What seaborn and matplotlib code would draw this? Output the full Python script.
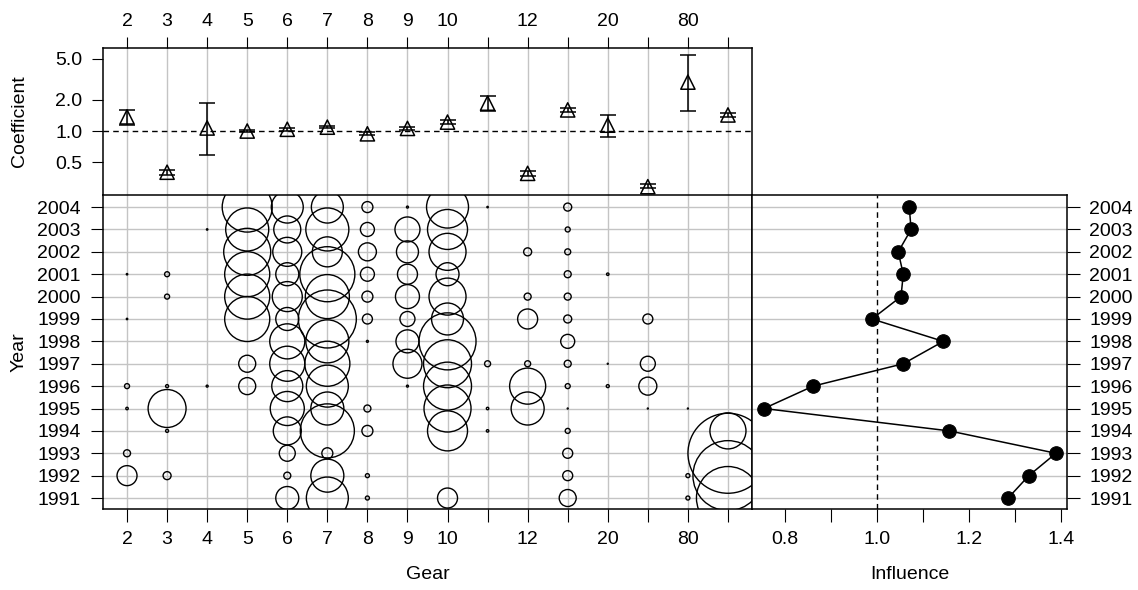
import numpy as np
import pandas as pd
import seaborn as sns
import matplotlib.pyplot as plt

# gear levels (R dropped the labels that would overlap)
gear_labels = ["2", "3", "4", "5", "6", "7", "8", "9", "10", "", "12", "", "20", "", "80", ""]
years = [2004, 2003, 2002, 2001, 2000, 1999, 1998, 1997, 1996, 1995, 1994, 1993, 1992, 1991]

# coefficients with confidence bounds
coef = [1.37, 0.40, 1.07, 1.00, 1.04, 1.09, 0.94, 1.06, 1.22, 1.86, 0.39, 1.60, 1.14, 0.29, 2.97, 1.43]
coef_lo = [1.14, 0.38, 0.59, 0.97, 1.01, 1.06, 0.91, 1.02, 1.17, 1.56, 0.37, 1.53, 0.87, 0.28, 1.56, 1.37]
coef_hi = [1.60, 0.42, 1.86, 1.03, 1.07, 1.12, 0.97, 1.10, 1.27, 2.18, 0.41, 1.67, 1.43, 0.31, 5.40, 1.50]

# influence by year
influence = [1.070, 1.074, 1.046, 1.057, 1.052, 0.989, 1.144, 1.057, 0.861, 0.754, 1.157, 1.389, 1.330, 1.285]

# relative share of records, rows = years (2004..1991), columns = gear levels
share = np.array([
    # 2   3     4     5     6     7     8     9     10    .     12    .     20    .     80    .
    [0.00, 0.00, 0.00, 25.0, 10.2, 10.2, 1.21, 0.04, 17.6, 0.02, 0.00, 0.64, 0.00, 0.00, 0.00, 0.00],  # 2004
    [0.00, 0.00, 0.02, 18.5, 7.29, 18.5, 1.96, 6.25, 16.0, 0.00, 0.00, 0.25, 0.00, 0.00, 0.00, 0.00],  # 2003
    [0.00, 0.00, 0.00, 22.1, 8.41, 9.00, 3.24, 4.84, 13.7, 0.00, 0.64, 0.36, 0.00, 0.00, 0.00, 0.00],  # 2002
    [0.02, 0.25, 0.00, 20.3, 5.29, 30.3, 1.96, 4.00, 5.29, 0.00, 0.00, 0.49, 0.06, 0.00, 0.00, 0.00],  # 2001
    [0.00, 0.25, 0.00, 20.3, 9.00, 19.4, 1.21, 5.76, 13.7, 0.00, 0.49, 0.49, 0.00, 0.00, 0.00, 0.00],  # 2000
    [0.02, 0.00, 0.00, 20.3, 5.29, 33.6, 1.00, 2.25, 10.2, 0.00, 4.00, 0.64, 0.00, 1.00, 0.00, 0.00],  # 1999
    [0.00, 0.00, 0.00, 0.00, 12.3, 18.5, 0.04, 5.29, 32.5, 0.00, 0.00, 1.96, 0.00, 0.00, 0.00, 0.00],  # 1998
    [0.00, 0.00, 0.00, 2.89, 12.3, 20.3, 0.00, 8.41, 23.0, 0.36, 0.36, 0.49, 0.01, 2.25, 0.00, 0.00],  # 1997
    [0.25, 0.09, 0.04, 2.89, 9.61, 17.6, 0.00, 0.04, 23.0, 0.00, 13.0, 0.25, 0.09, 3.24, 0.00, 0.00],  # 1996
    [0.06, 14.4, 0.00, 0.00, 11.6, 10.9, 0.49, 0.00, 22.1, 0.06, 10.9, 0.01, 0.00, 0.01, 0.01, 0.00],  # 1995
    [0.00, 0.09, 0.00, 0.00, 7.84, 29.2, 1.21, 0.00, 16.0, 0.06, 0.00, 0.25, 0.00, 0.00, 0.00, 13.0],  # 1994
    [0.49, 0.00, 0.00, 0.00, 2.56, 1.21, 0.00, 0.00, 0.00, 0.00, 0.00, 1.00, 0.00, 0.00, 0.00, 64.0],  # 1993
    [4.00, 0.64, 0.00, 0.00, 0.49, 10.9, 0.16, 0.00, 0.00, 0.00, 0.00, 1.00, 0.00, 0.00, 0.16, 49.0],  # 1992
    [0.00, 0.00, 0.00, 0.00, 5.29, 17.6, 0.16, 0.00, 4.00, 0.00, 0.00, 2.89, 0.00, 0.00, 0.16, 39.7],  # 1991
])

plt.rcParams['font.family'] = ['Liberation Sans', 'DejaVu Sans']
plt.rcParams['font.size'] = 14

pos = np.arange(1, len(gear_labels) + 1)
bub = pd.DataFrame(share, index=years, columns=pos).stack().reset_index()
bub.columns = ['year', 'gear', 'share']
bub = bub[bub['share'] > 0]

grid_col = '#c4c4c4'
fig = plt.figure(figsize=(11.38, 5.9), dpi=100)
ax_top = fig.add_axes([0.0905, 0.6695, 0.5703, 0.2491])
ax_bub = fig.add_axes([0.0905, 0.1373, 0.5703, 0.5322])
ax_inf = fig.add_axes([0.6608, 0.1373, 0.2768, 0.5322])

# coefficient panel
c = np.array(coef)
ax_top.errorbar(pos, c, yerr=[c - np.array(coef_lo), np.array(coef_hi) - c], fmt='none',
                ecolor='black', elinewidth=1.1, capsize=6, capthick=1.1, zorder=3)
ax_top.scatter(pos, c, marker='^', s=105, facecolors='none', edgecolors='black', linewidths=1.1, zorder=4)
ax_top.axhline(1.0, color='black', lw=1, ls=(0, (4, 3)), zorder=2)
ax_top.set_yscale('log')
ax_top.set_ylim(0.241, 6.34)
ax_top.set_xlim(0.4, 16.6)
ax_top.set_yticks([0.5, 1, 2, 5])
ax_top.set_yticklabels(['0.5', '1.0', '2.0', '5.0'])
ax_top.yaxis.set_minor_locator(plt.NullLocator())
ax_top.set_xticks(pos)
ax_top.set_xticklabels(gear_labels)
ax_top.xaxis.tick_top()
ax_top.grid(axis='x', color=grid_col, lw=1)
ax_top.set_axisbelow(True)
ax_top.set_ylabel('Coefficient')
ax_top.yaxis.set_label_coords(-0.116, 0.5)
ax_top.tick_params(axis='x', length=8, pad=5)
ax_top.tick_params(axis='y', length=8, pad=7)
ax_top.spines['bottom'].set_visible(False)

# bubble panel
smax = 64.0
sns.scatterplot(data=bub, x='gear', y='year', size='share', sizes=(0, smax * 0.5184 * 100),
                size_norm=(0, smax), facecolor='none', edgecolor='black', linewidth=1.0,
                legend=False, ax=ax_bub, zorder=3)
ax_bub.set_xlim(0.4, 16.6)
ax_bub.set_ylim(1990.51, 2004.54)
ax_bub.set_xticks(pos)
ax_bub.set_xticklabels(gear_labels)
ax_bub.set_yticks(years)
ax_bub.set_yticklabels([str(y) for y in years])
ax_bub.grid(color=grid_col, lw=1)
ax_bub.set_axisbelow(True)
ax_bub.set_xlabel('Gear', labelpad=13)
ax_bub.set_ylabel('Year')
ax_bub.yaxis.set_label_coords(-0.116, 0.5)
ax_bub.tick_params(length=9, pad=7)

# influence panel
infl = pd.DataFrame({'year': years, 'influence': influence})
sns.lineplot(data=infl, x='influence', y='year', sort=False, estimator=None,
             color='black', lw=1.1, ax=ax_inf, zorder=3)
sns.scatterplot(data=infl, x='influence', y='year', color='black', s=95,
                edgecolor='black', ax=ax_inf, zorder=4)
ax_inf.axvline(1.0, color='black', lw=1, ls=(0, (4, 3)), zorder=2)
ax_inf.set_xlim(0.728, 1.413)
ax_inf.set_ylim(1990.51, 2004.54)
ax_inf.set_xticks([0.8, 0.9, 1.0, 1.1, 1.2, 1.3, 1.4])
ax_inf.set_xticklabels(['0.8', '', '1.0', '', '1.2', '', '1.4'])
ax_inf.set_yticks(years)
ax_inf.set_yticklabels([str(y) for y in years])
ax_inf.yaxis.tick_right()
ax_inf.grid(axis='y', color=grid_col, lw=1)
ax_inf.set_axisbelow(True)
ax_inf.set_xlabel('Influence', labelpad=13)
ax_inf.set_ylabel('')
ax_inf.tick_params(length=9, pad=7)

for ax in (ax_top, ax_bub, ax_inf):
    for sp in ax.spines.values():
        sp.set_linewidth(1.1)

fig.savefig('out.png', dpi=100)
